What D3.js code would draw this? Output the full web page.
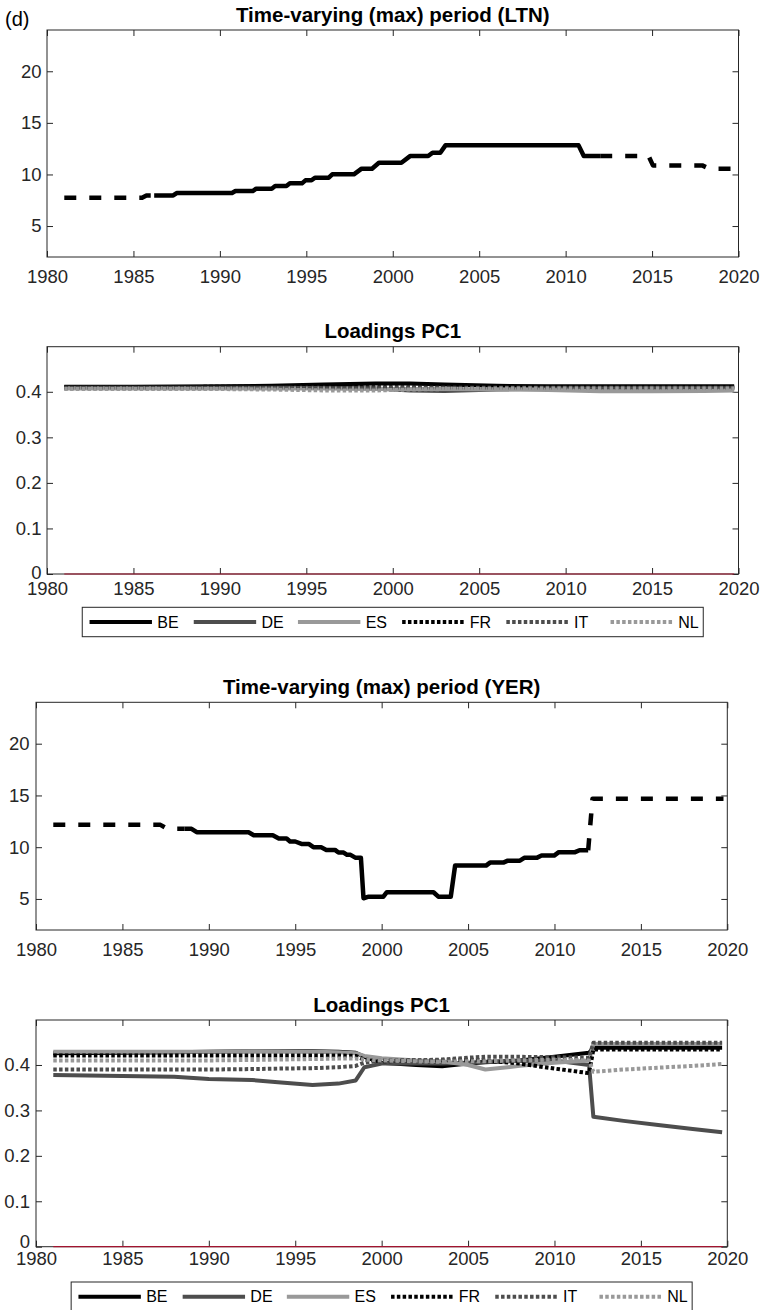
<!DOCTYPE html>
<html><head><meta charset="utf-8">
<script src="https://cdn.jsdelivr.net/npm/d3@7"></script>
<style>body{margin:0;background:#fff}svg{display:block}text{font-family:"Liberation Sans",Arial,Helvetica,sans-serif}</style>
</head><body><svg id="c" width="760" height="1310"></svg>
<script>
// ---------- DATA ----------
const xTicks = [1980, 1985, 1990, 1995, 2000, 2005, 2010, 2015, 2020];
const periodTicks = [5, 10, 15, 20];
const loadTicks = [0, 0.1, 0.2, 0.3, 0.4];
const countries = ["BE", "DE", "ES", "FR", "IT", "NL"];

// LTN period (dashed before, solid, dashed after)
const ltnPreYears = [1981, 1985.5, 1985.75, 1986.2];
const ltnPreVals  = [7.75, 7.75, 7.97, 7.97];
const ltnYears = [1986.2, 1987.3, 1987.5, 1990.7, 1990.9, 1991.9, 1992.1, 1993.0, 1993.2, 1993.85, 1994.05, 1994.75, 1994.95, 1995.3, 1995.5, 1996.3, 1996.5, 1997.75, 1998.2, 1998.8, 1999.2, 2000.5, 2001.0, 2002.05, 2002.3, 2002.75, 2003.05, 2010.75, 2011.05, 2012.0];
const ltnVals  = [7.97, 7.97, 8.2, 8.2, 8.39, 8.39, 8.62, 8.62, 8.88, 8.88, 9.14, 9.14, 9.43, 9.43, 9.69, 9.69, 10.01, 10.01, 10.56, 10.56, 11.14, 11.14, 11.78, 11.78, 12.11, 12.11, 12.82, 12.82, 11.78, 11.78];
const ltnPostYears = [2012.0, 2014.8, 2015.05, 2017.9, 2018.3, 2019.75];
const ltnPostVals  = [11.78, 11.78, 10.88, 10.88, 10.56, 10.56];

// YER period
const yerPreYears = [1981, 1987.2, 1987.6, 1988.6];
const yerPreVals  = [12.16, 12.16, 11.78, 11.78];
const yerYears = [1988.6, 1989.0, 1989.3, 1992.3, 1992.6, 1993.7, 1994.05, 1994.5, 1994.7, 1995.0, 1995.4, 1995.8, 1996.05, 1996.5, 1996.8, 1997.3, 1997.5, 1997.8, 1998.0, 1998.2, 1998.5, 1998.8, 1998.95, 1999.25, 2000.1, 2000.3, 2003.0, 2003.28, 2004.0, 2004.25, 2006.04, 2006.27, 2007.04, 2007.3, 2008.0, 2008.25, 2008.97, 2009.25, 2009.98, 2010.25, 2011.19, 2011.45, 2011.95];
const yerVals  = [11.78, 11.78, 11.45, 11.45, 11.16, 11.16, 10.84, 10.84, 10.55, 10.55, 10.3, 10.3, 10.0, 10.0, 9.74, 9.74, 9.48, 9.48, 9.26, 9.26, 8.97, 8.97, 5.07, 5.22, 5.22, 5.65, 5.65, 5.22, 5.22, 8.22, 8.22, 8.51, 8.51, 8.7, 8.7, 8.97, 8.97, 9.19, 9.19, 9.52, 9.52, 9.71, 9.71];
const yerPostYears = [2011.95, 2012.2, 2019.78];
const yerPostVals  = [9.71, 14.68, 14.68];

// LTN loadings PC1
const ltnLoadYears = [1981, 1985, 1990, 1993, 1996, 1999, 2001, 2003, 2006, 2009, 2012, 2015, 2018, 2019.75];
const ltnBE = [0.411, 0.411, 0.412, 0.413, 0.416, 0.418, 0.418, 0.416, 0.413, 0.412, 0.412, 0.412, 0.412, 0.412];
const ltnDE = [0.409, 0.409, 0.409, 0.409, 0.409, 0.407, 0.403, 0.402, 0.405, 0.407, 0.407, 0.408, 0.408, 0.408];
const ltnES = [0.407, 0.407, 0.407, 0.407, 0.407, 0.406, 0.406, 0.406, 0.405, 0.404, 0.401, 0.401, 0.402, 0.403];
const ltnFR = [0.410, 0.410, 0.411, 0.411, 0.411, 0.410, 0.410, 0.410, 0.410, 0.410, 0.410, 0.410, 0.410, 0.410];
const ltnIT = [0.409, 0.409, 0.409, 0.409, 0.408, 0.408, 0.409, 0.409, 0.409, 0.409, 0.409, 0.409, 0.409, 0.409];
const ltnNL = [0.406, 0.406, 0.406, 0.405, 0.403, 0.403, 0.405, 0.406, 0.407, 0.407, 0.407, 0.407, 0.407, 0.407];

// YER loadings PC1
const yerLoadYears = [1981, 1985, 1988, 1990, 1992.5, 1994, 1996, 1997.5, 1998.5, 1999, 2000, 2002, 2003.5, 2005, 2006, 2008, 2010, 2012, 2012.25, 2014, 2016, 2018, 2019.7];
const yerBE = [0.426, 0.427, 0.428, 0.429, 0.430, 0.431, 0.430, 0.429, 0.427, 0.418, 0.405, 0.400, 0.397, 0.403, 0.406, 0.410, 0.418, 0.427, 0.438, 0.438, 0.438, 0.438, 0.438];
const yerDE = [0.378, 0.376, 0.374, 0.369, 0.367, 0.362, 0.356, 0.359, 0.366, 0.395, 0.403, 0.404, 0.403, 0.405, 0.407, 0.409, 0.410, 0.400, 0.286, 0.277, 0.268, 0.259, 0.252];
const yerES = [0.429, 0.429, 0.429, 0.429, 0.430, 0.430, 0.429, 0.428, 0.426, 0.420, 0.415, 0.410, 0.408, 0.400, 0.390, 0.398, 0.405, 0.410, 0.446, 0.446, 0.446, 0.446, 0.446];
const yerFR = [0.421, 0.421, 0.421, 0.421, 0.421, 0.421, 0.421, 0.421, 0.420, 0.412, 0.408, 0.410, 0.410, 0.412, 0.410, 0.403, 0.392, 0.382, 0.434, 0.434, 0.434, 0.434, 0.434];
const yerIT = [0.390, 0.390, 0.390, 0.390, 0.391, 0.392, 0.393, 0.395, 0.398, 0.405, 0.410, 0.410, 0.412, 0.416, 0.418, 0.418, 0.417, 0.416, 0.449, 0.449, 0.449, 0.449, 0.449];
const yerNL = [0.410, 0.410, 0.410, 0.410, 0.411, 0.412, 0.413, 0.414, 0.414, 0.412, 0.410, 0.408, 0.407, 0.408, 0.408, 0.410, 0.412, 0.410, 0.385, 0.390, 0.394, 0.398, 0.402];

const zeroYears = [1981, 2019.75];
const zeroVals = [0, 0];

// ---------- STYLE ----------
const AX = "#262626";
const FONT = '"Liberation Sans", Arial, Helvetica, sans-serif';
const DOT = "3.5,2.3";
const styles = {
  BE: {color: "#000000", dash: null},
  DE: {color: "#4d4d4d", dash: null},
  ES: {color: "#999999", dash: null},
  FR: {color: "#000000", dash: DOT},
  IT: {color: "#4d4d4d", dash: DOT},
  NL: {color: "#999999", dash: DOT}
};

const svg = d3.select("#c");

function zip(xs, ys) { return xs.map((d, i) => [d, ys[i]]); }

function panel(cfg) {
  const x = d3.scaleLinear().domain([1980, 2020]).range([cfg.left, cfg.right]);
  const y = d3.scaleLinear().domain(cfg.yDomain).range([cfg.bottom, cfg.top]);
  const g = svg.append("g");
  const styleAxis = (sel) => {
    sel.select(".domain").remove();
    sel.attr("font-family", null).attr("font-size", null);
    sel.selectAll("line").attr("stroke", AX).attr("stroke-width", 1);
    sel.selectAll("text").attr("fill", AX).style("font-family", FONT).style("font-size", "18.5px");
  };
  g.append("g").attr("transform", `translate(0,${cfg.bottom})`)
    .call(d3.axisBottom(x).tickValues(xTicks).tickFormat(d3.format("d")).tickSize(-6).tickPadding(cfg.xPad))
    .call(styleAxis);
  g.append("g").attr("transform", `translate(0,${cfg.top})`)
    .call(d3.axisTop(x).tickValues(xTicks).tickFormat("").tickSize(-6))
    .call(styleAxis);
  const yAx = g.append("g").attr("transform", `translate(${cfg.left},0)`)
    .call(d3.axisLeft(y).tickValues(cfg.yTicks).tickFormat(cfg.yFmt).tickSize(-6).tickPadding(cfg.yPad))
    .call(styleAxis);
  if (cfg.zeroShift) {
    yAx.selectAll(".tick").filter(d => d === 0).select("text").attr("y", -cfg.zeroShift);
  }
  g.append("g").attr("transform", `translate(${cfg.right},0)`)
    .call(d3.axisRight(y).tickValues(cfg.yTicks).tickFormat("").tickSize(-6))
    .call(styleAxis);
  g.append("rect").attr("x", cfg.left).attr("y", cfg.top)
    .attr("width", cfg.right - cfg.left).attr("height", cfg.bottom - cfg.top)
    .attr("fill", "none").attr("stroke", AX).attr("stroke-width", 1);
  g.append("text").attr("x", (cfg.left + cfg.right) / 2).attr("y", cfg.top - 8.5)
    .attr("text-anchor", "middle").style("font-family", FONT).style("font-size", "20.5px")
    .style("font-weight", "bold").attr("fill", "#000").text(cfg.title);
  const line = d3.line().x(d => x(d[0])).y(d => y(d[1]));
  return {x, y, g, line};
}

function drawPeriod(p, pre, main, post) {
  [[pre, "12,13"], [main, null], [post, "12,13"]].forEach(([pts, dash]) => {
    p.g.append("path").datum(pts).attr("d", p.line)
      .attr("fill", "none").attr("stroke", "#000").attr("stroke-width", 4.5)
      .attr("stroke-linejoin", "round")
      .attr("stroke-dasharray", dash);
  });
}

function drawLoadings(p, years, series) {
  p.g.append("path").datum(zip(zeroYears, zeroVals)).attr("d", p.line)
    .attr("fill", "none").attr("stroke", "#a2142f").attr("stroke-width", 1.2);
  countries.forEach((c, i) => {
    p.g.append("path").datum(zip(years, series[i])).attr("d", p.line)
      .attr("fill", "none").attr("stroke", styles[c].color).attr("stroke-width", 4)
      .attr("stroke-linejoin", "round")
      .attr("stroke-dasharray", styles[c].dash);
  });
}

function legend(cx, top) {
  const w = 621, h = 29.4, left = cx - w / 2;
  const g = svg.append("g");
  g.append("rect").attr("x", left).attr("y", top).attr("width", w).attr("height", h)
    .attr("fill", "#fff").attr("stroke", AX).attr("stroke-width", 1);
  const cy = top + h / 2;
  countries.forEach((c, i) => {
    const x0 = left + 7.3 + i * 104.2;
    g.append("line").attr("x1", x0).attr("x2", x0 + 62.4).attr("y1", cy).attr("y2", cy)
      .attr("stroke", styles[c].color).attr("stroke-width", 4)
      .attr("stroke-dasharray", styles[c].dash);
    g.append("text").attr("x", x0 + 67.7).attr("y", cy).attr("dy", "0.36em")
      .style("font-family", FONT).style("font-size", "16px").attr("fill", "#000").text(c);
  });
}

const fmtPeriod = d3.format("d");
const fmtLoad = d => d === 0 ? "0" : d3.format(".1f")(d);

// Panel A
const pA = panel({left: 47, right: 738.5, top: 30, bottom: 257, yDomain: [2, 24], yTicks: periodTicks, yFmt: fmtPeriod, xPad: 13, yPad: 5.5, title: "Time-varying (max) period (LTN)"});
drawPeriod(pA, zip(ltnPreYears, ltnPreVals), zip(ltnYears, ltnVals), zip(ltnPostYears, ltnPostVals));

svg.append("text").attr("x", 5).attr("y", 26).style("font-family", FONT).style("font-size", "20px").attr("fill", "#000").text("(d)");

// Panel B
const pB = panel({left: 47, right: 738.5, top: 346.7, bottom: 574, yDomain: [0, 0.499], yTicks: loadTicks, yFmt: fmtLoad, xPad: 8, yPad: 5.5, zeroShift: 1.5, title: "Loadings PC1"});
drawLoadings(pB, ltnLoadYears, [ltnBE, ltnDE, ltnES, ltnFR, ltnIT, ltnNL]);
legend((47 + 738.5) / 2, 607.3);

// Panel C
const pC = panel({left: 36, right: 727.3, top: 702.3, bottom: 930, yDomain: [2, 24], yTicks: periodTicks, yFmt: fmtPeriod, xPad: 13, yPad: 6.5, title: "Time-varying (max) period (YER)"});
drawPeriod(pC, zip(yerPreYears, yerPreVals), zip(yerYears, yerVals), zip(yerPostYears, yerPostVals));

// Panel D
const pD = panel({left: 36, right: 727.3, top: 1020, bottom: 1246.7, yDomain: [0, 0.499], yTicks: loadTicks, yFmt: fmtLoad, xPad: 5, yPad: 6, zeroShift: 5, title: "Loadings PC1"});
drawLoadings(pD, yerLoadYears, [yerBE, yerDE, yerES, yerFR, yerIT, yerNL]);
legend((36 + 727.3) / 2, 1282);
</script></body></html>
